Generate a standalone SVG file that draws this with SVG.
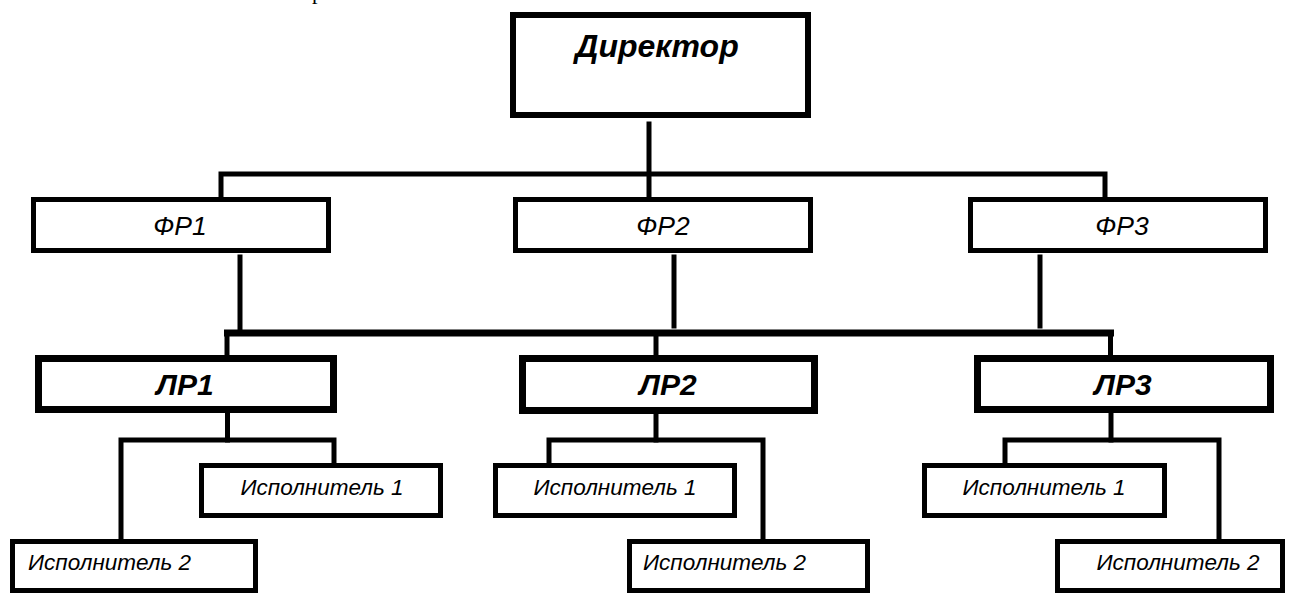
<svg xmlns="http://www.w3.org/2000/svg" width="1290" height="594" viewBox="0 0 1290 594">
<style>
  .box { fill: #fff; stroke: #000; }
  .b6 { stroke-width: 6; }
  .b5 { stroke-width: 5; }
  .b7 { stroke-width: 7; }
  .ln { fill: none; stroke: #000; stroke-width: 5; stroke-linecap: square; }
  .bus { fill: none; stroke: #000; stroke-width: 7; }
  .t { font-family: "Liberation Sans", Arial, sans-serif; font-style: italic; fill: #000; }
  .dir { font-size: 32px; font-weight: bold; text-anchor: middle; }
  .fr { font-size: 26.5px; text-anchor: middle; }
  .lr { font-size: 30px; font-weight: bold; text-anchor: middle; }
  .ex { font-size: 22.5px; }
  .mid { text-anchor: middle; }
</style>
<rect width="1290" height="594" fill="#fff"/>
<text x="312" y="-1" font-family="Liberation Serif, serif" font-size="22">р</text>
<g id="connectors">
  <path class="ln" d="M649 124 V197"/>
  <path class="ln" d="M221 197 V174 H1105 V197"/>
  <path class="ln" d="M240 257 V328"/>
  <path class="ln" d="M674 257 V326"/>
  <path class="ln" d="M1040 257 V326"/>
  <path class="bus" d="M224 333 H1114"/>
  <path class="ln" d="M227 333 V355"/>
  <path class="ln" d="M656 333 V355"/>
  <path class="ln" d="M1110.5 333 V355"/>
  <path class="ln" d="M227.5 413 V440"/>
  <path class="ln" d="M121 539 V440 H334 V463"/>
  <path class="ln" d="M656 414 V440"/>
  <path class="ln" d="M549 463 V440 H763 V538"/>
  <path class="ln" d="M1111 413 V440"/>
  <path class="ln" d="M1005 463 V440 H1219 V538"/>
</g>
<g id="director">
  <rect class="box b6" x="513" y="15" width="295" height="100"/>
  <text class="t dir" x="657" y="57">Директор</text>
</g>
<g id="fr1">
  <rect class="box b5" x="33.5" y="199.5" width="295" height="51"/>
  <text class="t fr" x="180" y="235">ФР1</text>
</g>
<g id="fr2">
  <rect class="box b5" x="515.5" y="199.5" width="295" height="51"/>
  <text class="t fr" x="663" y="235">ФР2</text>
</g>
<g id="fr3">
  <rect class="box b5" x="970.5" y="199.5" width="295" height="51"/>
  <text class="t fr" x="1122" y="235">ФР3</text>
</g>
<g id="lr1">
  <rect class="box b7" x="38.5" y="358.5" width="295" height="51"/>
  <text class="t lr" x="185" y="395">ЛР1</text>
</g>
<g id="lr2">
  <rect class="box b7" x="522.5" y="358.5" width="292" height="52"/>
  <text class="t lr" x="668" y="395">ЛР2</text>
</g>
<g id="lr3">
  <rect class="box b7" x="977.5" y="358.5" width="293" height="51"/>
  <text class="t lr" x="1123" y="395">ЛР3</text>
</g>
<g id="lr1-ex1">
  <rect class="box b5" x="201.5" y="465.5" width="239" height="50"/>
  <text class="t ex mid" x="322" y="495">Исполнитель 1</text>
</g>
<g id="lr1-ex2">
  <rect class="box b5" x="12.5" y="541.5" width="243" height="49"/>
  <text class="t ex" x="28" y="570">Исполнитель 2</text>
</g>
<g id="lr2-ex1">
  <rect class="box b5" x="495.5" y="465.5" width="239" height="50"/>
  <text class="t ex mid" x="615" y="495">Исполнитель 1</text>
</g>
<g id="lr2-ex2">
  <rect class="box b5" x="629.5" y="541.5" width="238" height="49"/>
  <text class="t ex" x="643" y="570">Исполнитель 2</text>
</g>
<g id="lr3-ex1">
  <rect class="box b5" x="924.5" y="465.5" width="240" height="50"/>
  <text class="t ex mid" x="1044" y="495">Исполнитель 1</text>
</g>
<g id="lr3-ex2">
  <rect class="box b5" x="1057.5" y="541.5" width="225" height="49"/>
  <text class="t ex mid" x="1178" y="570">Исполнитель 2</text>
</g>
</svg>
